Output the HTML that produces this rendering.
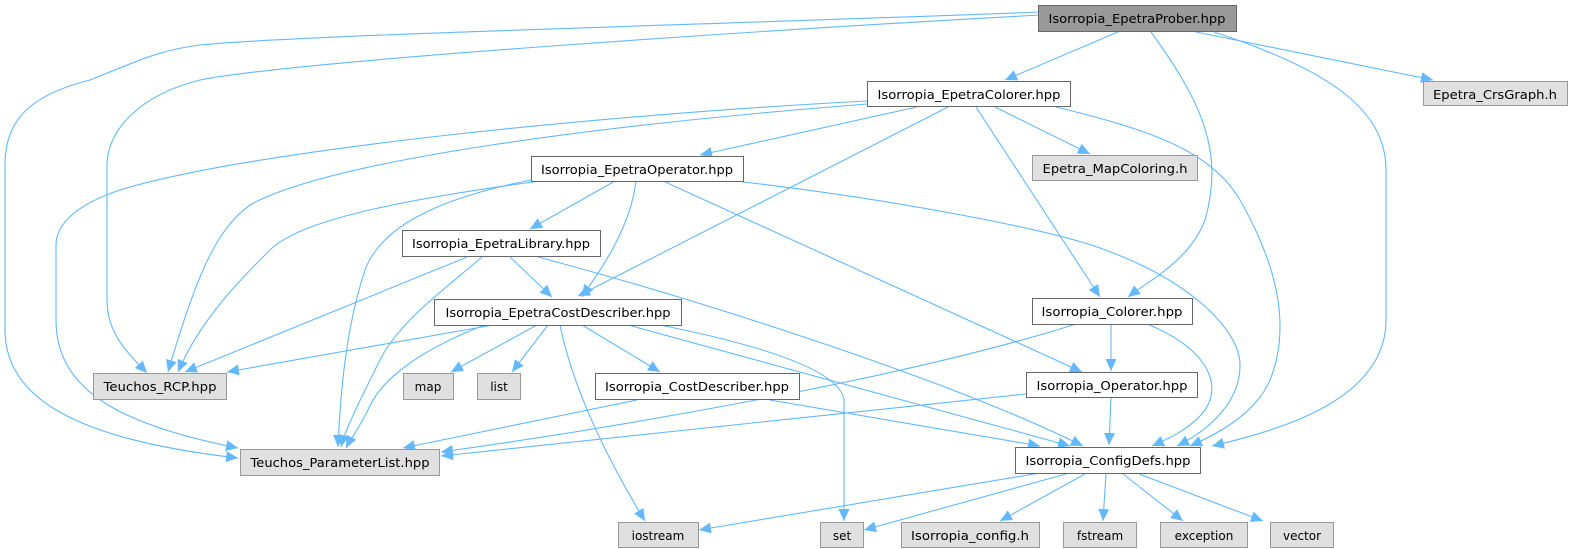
<!DOCTYPE html>
<html><head><meta charset="utf-8"><style>
html,body{margin:0;padding:0;background:#fff;}
svg{display:block;}
text{font-family:"DejaVu Sans","Liberation Sans",sans-serif;font-size:12px;fill:#000;}
.e{fill:none;stroke:#63b8ff;stroke-width:1.1;}
.w{fill:#fff;stroke:#666;stroke-width:1;}
.g{fill:#e0e0e0;stroke:#999;stroke-width:1;}
.p{fill:#999;stroke:#666;stroke-width:1;}
</style></head><body>
<svg width="1573" height="549" viewBox="0 0 1573 549" xmlns="http://www.w3.org/2000/svg">
<defs><marker id="a" markerUnits="userSpaceOnUse" markerWidth="14" markerHeight="12" refX="12" refY="6" orient="auto"><path d="M0,0.5 L12,6 L0,11.5 z" fill="#63b8ff"/></marker></defs>
<g marker-end="url(#a)">
<path class="e" d="M1041,12 C700,25 300,35 200,45 C160,50 140,60 90,80 C30,95 5,120 5,165 L5,330 C5,400 80,440 238,458"/>
<path class="e" d="M1041,15 C800,28 300,60 200,80 C140,95 107,130 107,165 L107,300 C107,335 130,355 147,373"/>
<path class="e" d="M1118,32 L1005,80"/>
<path class="e" d="M1151,32 C1200,100 1225,150 1205,220 C1190,260 1150,280 1128,297"/>
<path class="e" d="M1214,32 C1330,70 1386,110 1386,170 L1386,320 C1386,400 1280,430 1212,446"/>
<path class="e" d="M1196,32 L1433,80"/>
<path class="e" d="M867,101 C600,115 250,150 120,190 C75,205 56,225 56,245 L56,320 C56,390 120,425 238,448"/>
<path class="e" d="M867,104 C600,125 330,160 250,205 C215,230 195,280 168,372"/>
<path class="e" d="M917,107 L700,155"/>
<path class="e" d="M995,107 L1090,154"/>
<path class="e" d="M948,107 L578,296"/>
<path class="e" d="M976,107 L1100,297"/>
<path class="e" d="M1056,107 C1150,130 1210,150 1240,200 C1280,270 1290,330 1270,380 C1255,415 1215,435 1190,446"/>
<path class="e" d="M540,181 C400,200 300,220 270,250 C240,280 200,320 178,372"/>
<path class="e" d="M531,180 C430,200 380,230 365,270 C345,330 340,400 338,447"/>
<path class="e" d="M615,181 L530,229"/>
<path class="e" d="M636,181 C630,230 600,270 582,297"/>
<path class="e" d="M663,181 L1082,372"/>
<path class="e" d="M735,181 C900,200 1050,230 1100,248 C1190,280 1240,330 1240,365 C1240,405 1205,432 1177,446"/>
<path class="e" d="M467,257 L185,372"/>
<path class="e" d="M482,257 C450,285 400,320 380,360 C360,400 345,430 341,447"/>
<path class="e" d="M510,257 L552,297"/>
<path class="e" d="M538,257 C700,300 950,380 1083,446"/>
<path class="e" d="M493,325 L227,372"/>
<path class="e" d="M482,326 C420,350 380,380 368,410 C358,430 350,440 346,448"/>
<path class="e" d="M537,325 L451,372"/>
<path class="e" d="M548,325 L512,372"/>
<path class="e" d="M560,325 C575,400 620,480 645,521"/>
<path class="e" d="M660,325 C760,345 840,370 844,400 L844,521"/>
<path class="e" d="M582,325 L660,372"/>
<path class="e" d="M628,325 L1070,446"/>
<path class="e" d="M1076,324 C900,380 600,430 441,452"/>
<path class="e" d="M1111,324 L1111,371"/>
<path class="e" d="M1147,324 C1200,345 1225,380 1205,410 C1190,430 1165,440 1152,446"/>
<path class="e" d="M1026,394 L441,456"/>
<path class="e" d="M1111,397 L1109,445"/>
<path class="e" d="M637,400 L403,448"/>
<path class="e" d="M770,400 L1040,446"/>
<path class="e" d="M1040,473 L699,530"/>
<path class="e" d="M1066,474 L864,530"/>
<path class="e" d="M1085,474 L1000,521"/>
<path class="e" d="M1106,474 L1103,521"/>
<path class="e" d="M1123,474 L1183,521"/>
<path class="e" d="M1139,474 L1263,521"/>
</g>
<rect class="p" x="1038.5" y="5.5" width="198" height="26"/><text x="1137" y="23" text-anchor="middle" textLength="177" lengthAdjust="spacingAndGlyphs">Isorropia_EpetraProber.hpp</text>
<rect class="w" x="867.5" y="81.5" width="203" height="25"/><text x="969" y="99" text-anchor="middle" textLength="183" lengthAdjust="spacingAndGlyphs">Isorropia_EpetraColorer.hpp</text>
<rect class="g" x="1032.5" y="155.5" width="165" height="25"/><text x="1115" y="173" text-anchor="middle" textLength="145" lengthAdjust="spacingAndGlyphs">Epetra_MapColoring.h</text>
<rect class="g" x="1423.5" y="81.5" width="144" height="24"/><text x="1495" y="99" text-anchor="middle" textLength="124" lengthAdjust="spacingAndGlyphs">Epetra_CrsGraph.h</text>
<rect class="w" x="531.5" y="156.5" width="212" height="25"/><text x="637" y="174" text-anchor="middle" textLength="192" lengthAdjust="spacingAndGlyphs">Isorropia_EpetraOperator.hpp</text>
<rect class="w" x="402.5" y="230.5" width="198" height="26"/><text x="501" y="248" text-anchor="middle" textLength="178" lengthAdjust="spacingAndGlyphs">Isorropia_EpetraLibrary.hpp</text>
<rect class="w" x="434.5" y="299.5" width="247" height="26"/><text x="558" y="317" text-anchor="middle" textLength="225" lengthAdjust="spacingAndGlyphs">Isorropia_EpetraCostDescriber.hpp</text>
<rect class="w" x="1032.5" y="298.5" width="160" height="26"/><text x="1112" y="316" text-anchor="middle" textLength="141" lengthAdjust="spacingAndGlyphs">Isorropia_Colorer.hpp</text>
<rect class="g" x="93.5" y="373.5" width="133" height="26"/><text x="160" y="391" text-anchor="middle" textLength="113" lengthAdjust="spacingAndGlyphs">Teuchos_RCP.hpp</text>
<rect class="g" x="403.5" y="373.5" width="50" height="26"/><text x="428" y="391" text-anchor="middle">map</text>
<rect class="g" x="477.5" y="373.5" width="43" height="26"/><text x="499" y="391" text-anchor="middle">list</text>
<rect class="w" x="595.5" y="373.5" width="204" height="26"/><text x="697" y="391" text-anchor="middle" textLength="184" lengthAdjust="spacingAndGlyphs">Isorropia_CostDescriber.hpp</text>
<rect class="w" x="1026.5" y="372.5" width="171" height="25"/><text x="1112" y="390" text-anchor="middle" textLength="151" lengthAdjust="spacingAndGlyphs">Isorropia_Operator.hpp</text>
<rect class="g" x="240.5" y="449.5" width="199" height="26"/><text x="340" y="467" text-anchor="middle" textLength="179" lengthAdjust="spacingAndGlyphs">Teuchos_ParameterList.hpp</text>
<rect class="w" x="1015.5" y="447.5" width="185" height="26"/><text x="1108" y="465" text-anchor="middle" textLength="165" lengthAdjust="spacingAndGlyphs">Isorropia_ConfigDefs.hpp</text>
<rect class="g" x="618.5" y="522.5" width="80" height="25"/><text x="658" y="540" text-anchor="middle">iostream</text>
<rect class="g" x="820.5" y="522.5" width="43" height="25"/><text x="842" y="540" text-anchor="middle">set</text>
<rect class="g" x="901.5" y="522.5" width="138" height="25"/><text x="970" y="540" text-anchor="middle" textLength="118" lengthAdjust="spacingAndGlyphs">Isorropia_config.h</text>
<rect class="g" x="1063.5" y="522.5" width="73" height="25"/><text x="1100" y="540" text-anchor="middle">fstream</text>
<rect class="g" x="1160.5" y="522.5" width="87" height="25"/><text x="1204" y="540" text-anchor="middle">exception</text>
<rect class="g" x="1270.5" y="522.5" width="63" height="25"/><text x="1302" y="540" text-anchor="middle">vector</text>
</svg>
</body></html>
